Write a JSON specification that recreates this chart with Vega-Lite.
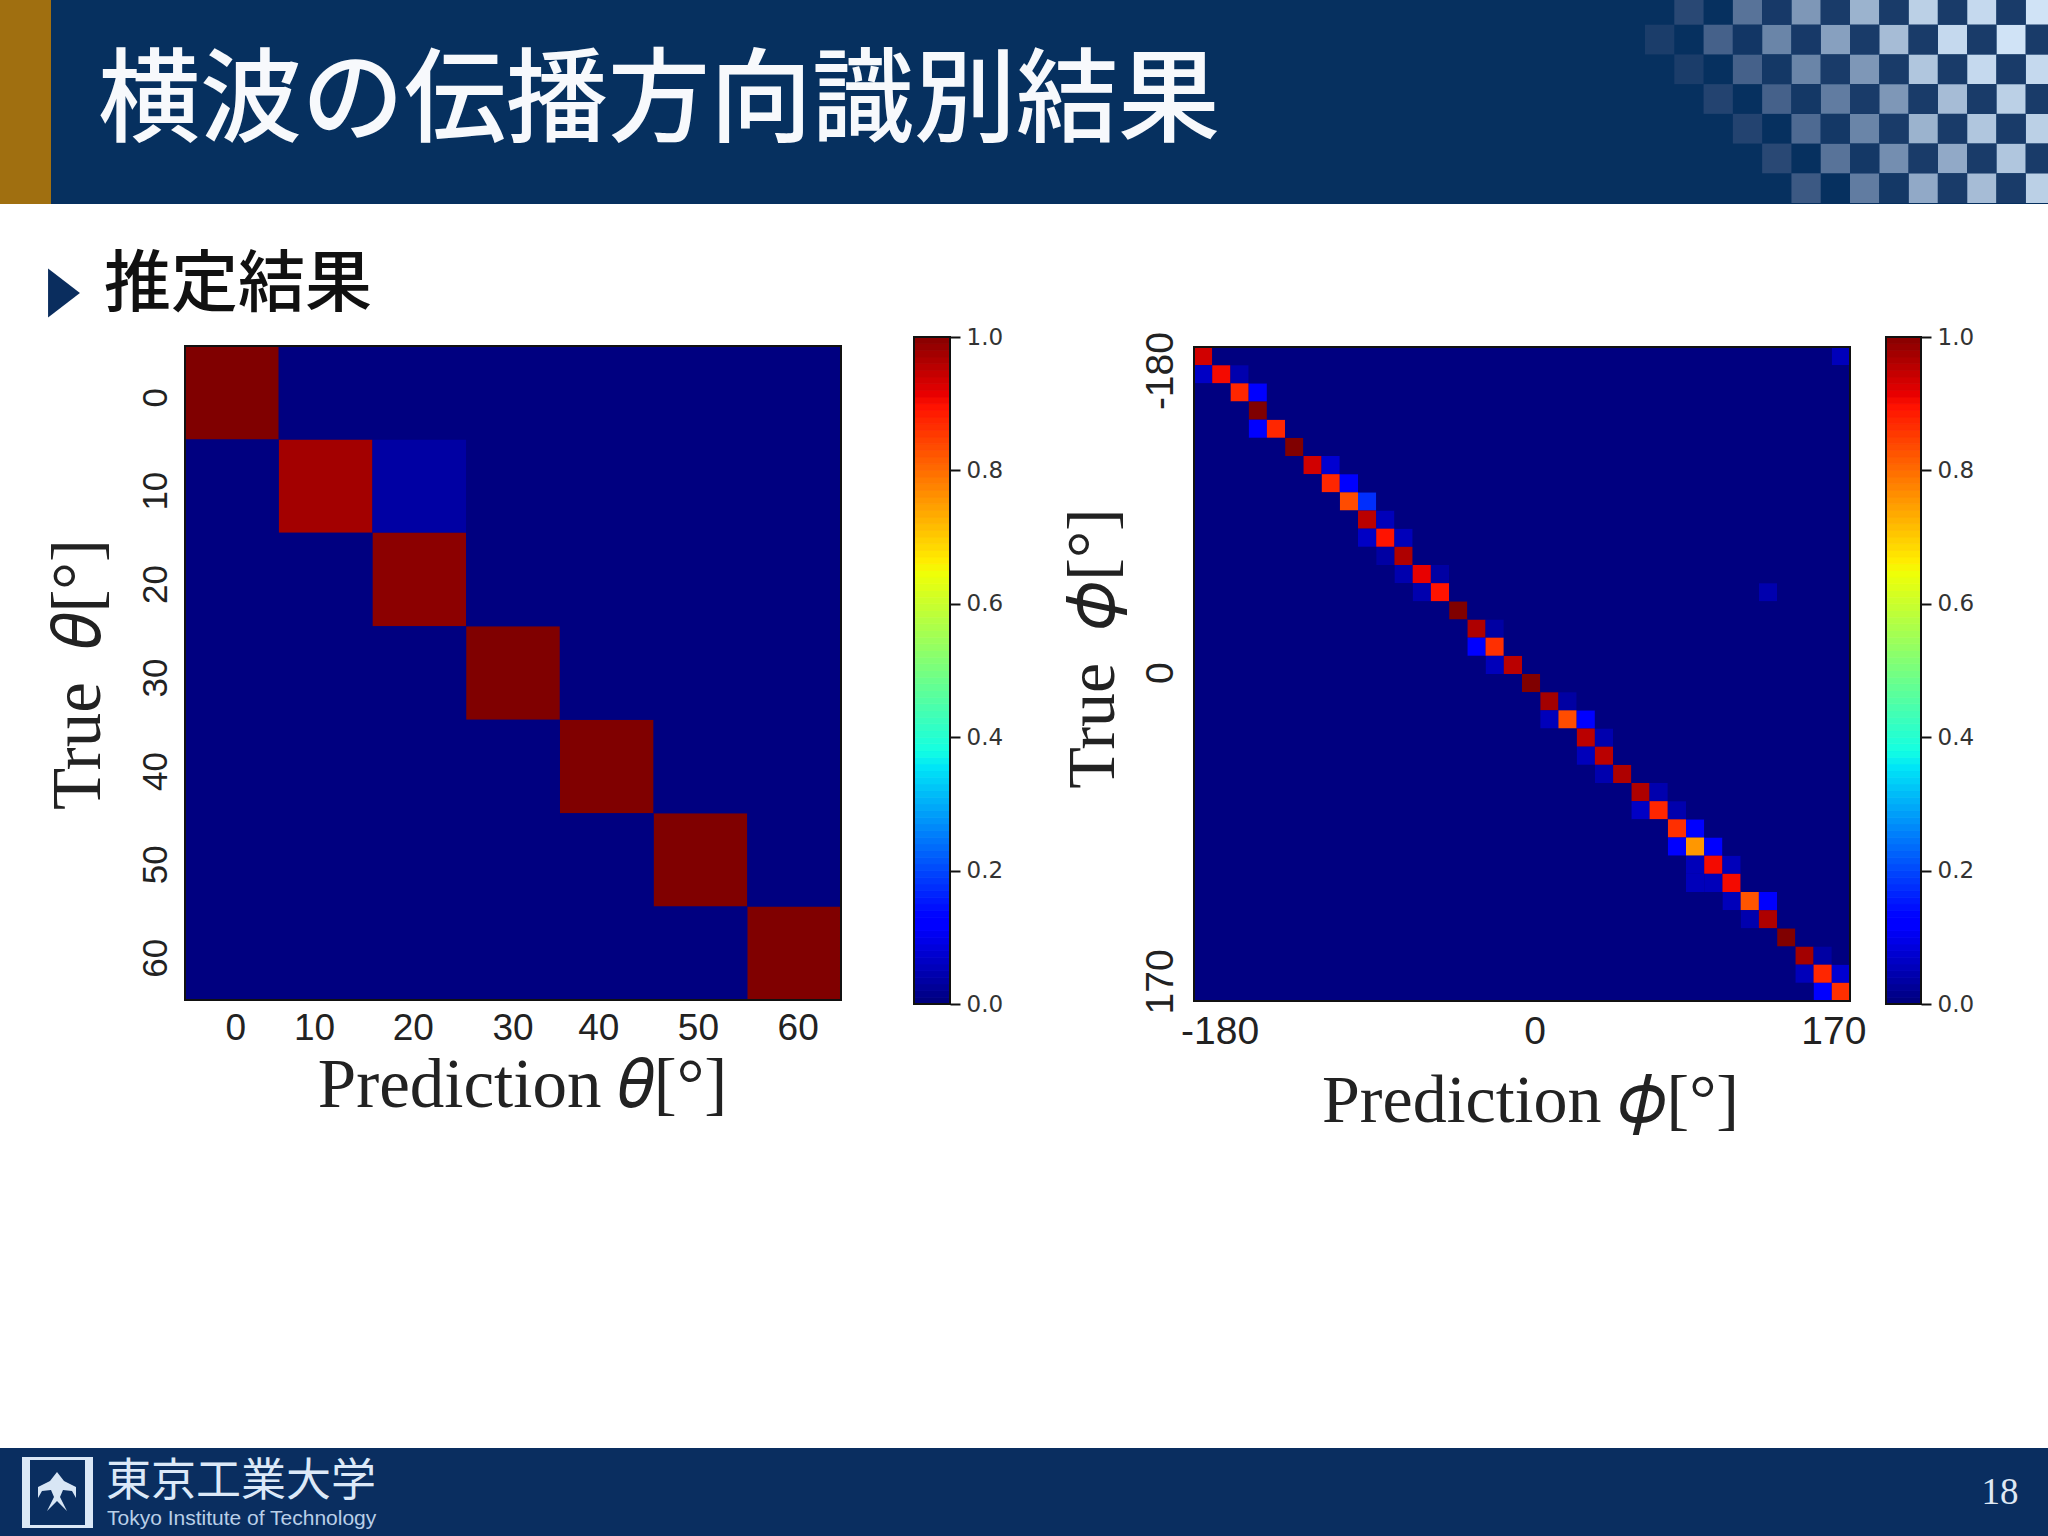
{"$schema":"https://vega.github.io/schema/vega-lite/v6.json","width":2048,"height":1536,"padding":0,"autosize":"none","background":"white","config":{"view":{"stroke":null},"axis":{"grid":false,"domain":false,"ticks":false}},
"data":{"values":[{}]},
"datasets":{
"checker":[{"k":1,"r":0,"b":0.15},{"k":3,"r":0,"b":0.4},{"k":5,"r":0,"b":0.6},{"k":7,"r":0,"b":0.75},{"k":9,"r":0,"b":0.9},{"k":11,"r":0,"b":0.95},{"k":13,"r":0,"b":1},{"k":0,"r":1,"b":0.08},{"k":2,"r":1,"b":0.3},{"k":4,"r":1,"b":0.5},{"k":6,"r":1,"b":0.65},{"k":8,"r":1,"b":0.8},{"k":10,"r":1,"b":0.95},{"k":12,"r":1,"b":1},{"k":1,"r":2,"b":0.08},{"k":3,"r":2,"b":0.3},{"k":5,"r":2,"b":0.5},{"k":7,"r":2,"b":0.6},{"k":9,"r":2,"b":0.85},{"k":11,"r":2,"b":0.95},{"k":13,"r":2,"b":0.95},{"k":2,"r":3,"b":0.12},{"k":4,"r":3,"b":0.3},{"k":6,"r":3,"b":0.45},{"k":8,"r":3,"b":0.6},{"k":10,"r":3,"b":0.8},{"k":12,"r":3,"b":0.9},{"k":3,"r":4,"b":0.12},{"k":5,"r":4,"b":0.35},{"k":7,"r":4,"b":0.5},{"k":9,"r":4,"b":0.75},{"k":11,"r":4,"b":0.85},{"k":13,"r":4,"b":0.9},{"k":4,"r":5,"b":0.15},{"k":6,"r":5,"b":0.4},{"k":8,"r":5,"b":0.55},{"k":10,"r":5,"b":0.7},{"k":12,"r":5,"b":0.85},{"k":5,"r":6,"b":0.25},{"k":7,"r":6,"b":0.45},{"k":9,"r":6,"b":0.7},{"k":11,"r":6,"b":0.8},{"k":13,"r":6,"b":0.9},{"k":4,"r":0,"b":0.06},{"k":6,"r":0,"b":0.07},{"k":8,"r":0,"b":0.07},{"k":10,"r":0,"b":0.07},{"k":12,"r":0,"b":0.07},{"k":3,"r":1,"b":0.04},{"k":5,"r":1,"b":0.06},{"k":7,"r":1,"b":0.07},{"k":9,"r":1,"b":0.07},{"k":11,"r":1,"b":0.07},{"k":13,"r":1,"b":0.07},{"k":4,"r":2,"b":0.05},{"k":6,"r":2,"b":0.07},{"k":8,"r":2,"b":0.07},{"k":10,"r":2,"b":0.07},{"k":12,"r":2,"b":0.07},{"k":5,"r":3,"b":0.05},{"k":7,"r":3,"b":0.07},{"k":9,"r":3,"b":0.07},{"k":11,"r":3,"b":0.07},{"k":13,"r":3,"b":0.07},{"k":6,"r":4,"b":0.05},{"k":8,"r":4,"b":0.07},{"k":10,"r":4,"b":0.07},{"k":12,"r":4,"b":0.07},{"k":7,"r":5,"b":0.05},{"k":9,"r":5,"b":0.07},{"k":11,"r":5,"b":0.07},{"k":13,"r":5,"b":0.07},{"k":8,"r":6,"b":0.05},{"k":10,"r":6,"b":0.07},{"k":12,"r":6,"b":0.07}],
"theta":[{"t":0,"p":0,"v":1},{"t":10,"p":10,"v":0.97},{"t":10,"p":20,"v":0.03},{"t":20,"p":20,"v":0.99},{"t":30,"p":30,"v":1},{"t":40,"p":40,"v":1},{"t":50,"p":50,"v":1},{"t":60,"p":60,"v":1}],
"phi":[{"t":-180,"p":-180,"v":0.93},{"t":-180,"p":170,"v":0.05},{"t":-170,"p":-180,"v":0.06},{"t":-170,"p":-170,"v":0.9},{"t":-170,"p":-160,"v":0.04},{"t":-160,"p":-160,"v":0.87},{"t":-160,"p":-150,"v":0.12},{"t":-150,"p":-150,"v":1},{"t":-140,"p":-150,"v":0.12},{"t":-140,"p":-140,"v":0.87},{"t":-130,"p":-130,"v":1},{"t":-120,"p":-120,"v":0.93},{"t":-120,"p":-110,"v":0.07},{"t":-110,"p":-110,"v":0.87},{"t":-110,"p":-100,"v":0.12},{"t":-100,"p":-100,"v":0.83},{"t":-100,"p":-90,"v":0.17},{"t":-90,"p":-90,"v":0.95},{"t":-90,"p":-80,"v":0.05},{"t":-80,"p":-90,"v":0.06},{"t":-80,"p":-80,"v":0.89},{"t":-80,"p":-70,"v":0.05},{"t":-70,"p":-80,"v":0.03},{"t":-70,"p":-70,"v":0.96},{"t":-60,"p":-70,"v":0.04},{"t":-60,"p":-60,"v":0.91},{"t":-60,"p":-50,"v":0.03},{"t":-50,"p":-60,"v":0.04},{"t":-50,"p":-50,"v":0.89},{"t":-50,"p":130,"v":0.04},{"t":-40,"p":-40,"v":1},{"t":-30,"p":-30,"v":0.96},{"t":-30,"p":-20,"v":0.03},{"t":-20,"p":-30,"v":0.12},{"t":-20,"p":-20,"v":0.86},{"t":-10,"p":-20,"v":0.05},{"t":-10,"p":-10,"v":0.95},{"t":0,"p":0,"v":1},{"t":10,"p":10,"v":0.97},{"t":10,"p":20,"v":0.03},{"t":20,"p":10,"v":0.05},{"t":20,"p":20,"v":0.83},{"t":20,"p":30,"v":0.12},{"t":30,"p":30,"v":0.95},{"t":30,"p":40,"v":0.04},{"t":40,"p":30,"v":0.05},{"t":40,"p":40,"v":0.95},{"t":50,"p":40,"v":0.04},{"t":50,"p":50,"v":0.96},{"t":60,"p":60,"v":0.96},{"t":60,"p":70,"v":0.04},{"t":70,"p":60,"v":0.06},{"t":70,"p":70,"v":0.87},{"t":70,"p":80,"v":0.04},{"t":80,"p":80,"v":0.86},{"t":80,"p":90,"v":0.12},{"t":90,"p":80,"v":0.12},{"t":90,"p":90,"v":0.75},{"t":90,"p":100,"v":0.12},{"t":100,"p":90,"v":0.05},{"t":100,"p":100,"v":0.9},{"t":100,"p":110,"v":0.05},{"t":110,"p":90,"v":0.05},{"t":110,"p":100,"v":0.05},{"t":110,"p":110,"v":0.9},{"t":120,"p":110,"v":0.05},{"t":120,"p":120,"v":0.82},{"t":120,"p":130,"v":0.12},{"t":130,"p":120,"v":0.04},{"t":130,"p":130,"v":0.96},{"t":140,"p":140,"v":1},{"t":150,"p":150,"v":0.97},{"t":150,"p":160,"v":0.03},{"t":160,"p":150,"v":0.05},{"t":160,"p":160,"v":0.87},{"t":160,"p":170,"v":0.07},{"t":170,"p":160,"v":0.12},{"t":170,"p":170,"v":0.86}],
"bar":[{"a":0,"b":0.01},{"a":0.01,"b":0.02},{"a":0.02,"b":0.03},{"a":0.03,"b":0.04},{"a":0.04,"b":0.05},{"a":0.05,"b":0.06},{"a":0.06,"b":0.07},{"a":0.07,"b":0.08},{"a":0.08,"b":0.09},{"a":0.09,"b":0.1},{"a":0.1,"b":0.11},{"a":0.11,"b":0.12},{"a":0.12,"b":0.13},{"a":0.13,"b":0.14},{"a":0.14,"b":0.15},{"a":0.15,"b":0.16},{"a":0.16,"b":0.17},{"a":0.17,"b":0.18},{"a":0.18,"b":0.19},{"a":0.19,"b":0.2},{"a":0.2,"b":0.21},{"a":0.21,"b":0.22},{"a":0.22,"b":0.23},{"a":0.23,"b":0.24},{"a":0.24,"b":0.25},{"a":0.25,"b":0.26},{"a":0.26,"b":0.27},{"a":0.27,"b":0.28},{"a":0.28,"b":0.29},{"a":0.29,"b":0.3},{"a":0.3,"b":0.31},{"a":0.31,"b":0.32},{"a":0.32,"b":0.33},{"a":0.33,"b":0.34},{"a":0.34,"b":0.35},{"a":0.35,"b":0.36},{"a":0.36,"b":0.37},{"a":0.37,"b":0.38},{"a":0.38,"b":0.39},{"a":0.39,"b":0.4},{"a":0.4,"b":0.41},{"a":0.41,"b":0.42},{"a":0.42,"b":0.43},{"a":0.43,"b":0.44},{"a":0.44,"b":0.45},{"a":0.45,"b":0.46},{"a":0.46,"b":0.47},{"a":0.47,"b":0.48},{"a":0.48,"b":0.49},{"a":0.49,"b":0.5},{"a":0.5,"b":0.51},{"a":0.51,"b":0.52},{"a":0.52,"b":0.53},{"a":0.53,"b":0.54},{"a":0.54,"b":0.55},{"a":0.55,"b":0.56},{"a":0.56,"b":0.57},{"a":0.57,"b":0.58},{"a":0.58,"b":0.59},{"a":0.59,"b":0.6},{"a":0.6,"b":0.61},{"a":0.61,"b":0.62},{"a":0.62,"b":0.63},{"a":0.63,"b":0.64},{"a":0.64,"b":0.65},{"a":0.65,"b":0.66},{"a":0.66,"b":0.67},{"a":0.67,"b":0.68},{"a":0.68,"b":0.69},{"a":0.69,"b":0.7},{"a":0.7,"b":0.71},{"a":0.71,"b":0.72},{"a":0.72,"b":0.73},{"a":0.73,"b":0.74},{"a":0.74,"b":0.75},{"a":0.75,"b":0.76},{"a":0.76,"b":0.77},{"a":0.77,"b":0.78},{"a":0.78,"b":0.79},{"a":0.79,"b":0.8},{"a":0.8,"b":0.81},{"a":0.81,"b":0.82},{"a":0.82,"b":0.83},{"a":0.83,"b":0.84},{"a":0.84,"b":0.85},{"a":0.85,"b":0.86},{"a":0.86,"b":0.87},{"a":0.87,"b":0.88},{"a":0.88,"b":0.89},{"a":0.89,"b":0.9},{"a":0.9,"b":0.91},{"a":0.91,"b":0.92},{"a":0.92,"b":0.93},{"a":0.93,"b":0.94},{"a":0.94,"b":0.95},{"a":0.95,"b":0.96},{"a":0.96,"b":0.97},{"a":0.97,"b":0.98},{"a":0.98,"b":0.99},{"a":0.99,"b":1}]
},
"resolve":{"scale":{"x":"independent","y":"independent","color":"independent","stroke":"independent"},"axis":{"x":"independent","y":"independent"}},
"layer":[
{"mark":{"type":"rect","x":0,"x2":2048,"y":0,"y2":204,"fill":"#06305f"},"encoding":{}},
{"mark":{"type":"rect","x":0,"x2":51,"y":0,"y2":204,"fill":"#a06f10"},"encoding":{}},
{"data":{"name":"checker"},"mark":{"type":"rect"},"encoding":{"x":{"field":"k","type":"ordinal","scale":{"domain":[0,1,2,3,4,5,6,7,8,9,10,11,12,13],"range":[1645,2055],"paddingInner":0,"paddingOuter":0},"axis":null},"y":{"field":"r","type":"ordinal","scale":{"domain":[0,1,2,3,4,5,6],"range":[-5,203],"paddingInner":0,"paddingOuter":0},"axis":null},"color":{"field":"b","type":"quantitative","scale":{"domain":[0,1],"range":["#06305f","#d0e3f6"]},"legend":null}}},
{"mark":{"type":"text","x":98,"y":103,"align":"left","baseline":"middle","text":"横波の伝播方向識別結果","font":"Noto Sans CJK JP","fontWeight":500,"fontSize":102,"color":"#f7f9fc"},"encoding":{}},
{"mark":{"type":"point","shape":"M-0.65,-1L0.65,0L-0.65,1Z","filled":true,"opacity":1,"fill":"#0a2d5e","stroke":null,"size":2401,"x":64,"y":293},"encoding":{}},
{"mark":{"type":"text","x":104,"y":286,"align":"left","baseline":"middle","text":"推定結果","font":"Noto Sans CJK JP","fontWeight":500,"fontSize":67,"color":"#111111"},"encoding":{}},

{"mark":{"type":"rect","fill":"#000080"},"encoding":{"x":{"datum":0,"type":"quantitative","scale":{"domain":[0,1],"range":[185,841]},"axis":null},"x2":{"datum":1},"y":{"datum":0,"type":"quantitative","scale":{"domain":[0,1],"range":[346,1000]},"axis":null},"y2":{"datum":1}}},
{"data":{"name":"theta"},"transform":[{"impute":"v","key":"p","keyvals":[0,10,20,30,40,50,60],"groupby":["t"],"value":0}],"mark":{"type":"rect"},"encoding":{
"x":{"field":"p","type":"ordinal","scale":{"domain":[0,10,20,30,40,50,60],"range":[185,841],"paddingInner":0,"paddingOuter":0},"axis":{"orient":"bottom","offset":-536,"labelAngle":0,"labelFont":"Liberation Sans","labelFontSize":37,"labelColor":"#222222","labelPadding":10,"labelBaseline":"top","labelOffset":{"condition":[{"test":"datum.value===0","value":4},{"test":"datum.value===10","value":-11},{"test":"datum.value===20","value":-6},{"test":"datum.value===40","value":-8},{"test":"datum.value===50","value":-2},{"test":"datum.value===60","value":4}],"value":0},"title":"Prediction 𝜃[°]","titleFont":"Liberation Serif","titleFontWeight":"normal","titleFontSize":69,"titleColor":"#222222","titleX":522,"titleY":106,"titleAlign":"center","titleBaseline":"alphabetic"}},
"y":{"field":"t","type":"ordinal","scale":{"domain":[0,10,20,30,40,50,60],"range":[346,1000],"paddingInner":0,"paddingOuter":0},"axis":{"orient":"left","offset":-185,"labelAngle":-90,"labelAlign":"center","labelBaseline":"bottom","labelFont":"Liberation Sans","labelFontSize":35,"labelColor":"#222222","labelPadding":12,"labelOffset":5,"title":"True\u00a0\u00a0𝜃[°]","titleFont":"Liberation Serif","titleFontWeight":"normal","titleFontSize":69,"titleColor":"#222222","titleAngle":-90,"titleX":-86,"titleY":674,"titleAlign":"center","titleBaseline":"alphabetic"}},
"color":{"field":"v","type":"quantitative","scale":{"type":"linear","interpolate":"rgb","domain":[0,0.11,0.125,0.35,0.375,0.64,0.66,0.89,0.91,1],"range":["#000080","#0000ff","#0000ff","#00e5f7","#14ffe2","#eeff08","#ffec00","#ff1300","#e80000","#800000"]},"legend":null}}},
{"mark":{"type":"rect","fill":null,"stroke":"#111111","strokeWidth":2},"encoding":{"x":{"datum":0,"type":"quantitative","scale":{"domain":[0,1],"range":[185,841]},"axis":null},"x2":{"datum":1},"y":{"datum":0,"type":"quantitative","scale":{"domain":[0,1],"range":[346,1000]},"axis":null},"y2":{"datum":1}}},

{"mark":{"type":"rect","fill":"#000080"},"encoding":{"x":{"datum":0,"type":"quantitative","scale":{"domain":[0,1],"range":[1194,1850]},"axis":null},"x2":{"datum":1},"y":{"datum":0,"type":"quantitative","scale":{"domain":[0,1],"range":[347,1001]},"axis":null},"y2":{"datum":1}}},
{"data":{"name":"phi"},"transform":[{"impute":"v","key":"p","keyvals":[-180,-170,-160,-150,-140,-130,-120,-110,-100,-90,-80,-70,-60,-50,-40,-30,-20,-10,0,10,20,30,40,50,60,70,80,90,100,110,120,130,140,150,160,170],"groupby":["t"],"value":0}],"mark":{"type":"rect"},"encoding":{
"x":{"field":"p","type":"ordinal","scale":{"domain":[-180,-170,-160,-150,-140,-130,-120,-110,-100,-90,-80,-70,-60,-50,-40,-30,-20,-10,0,10,20,30,40,50,60,70,80,90,100,110,120,130,140,150,160,170],"range":[1194,1850],"paddingInner":0,"paddingOuter":0},"axis":{"orient":"bottom","offset":-535,"values":[-180,0,170],"labelAngle":0,"labelFont":"Liberation Sans","labelFontSize":39,"labelColor":"#222222","labelPadding":11,"labelBaseline":"top","labelOffset":{"condition":[{"test":"datum.value===-180","value":17},{"test":"datum.value===0","value":4}],"value":-7},"title":"Prediction 𝜙[°]","titleFont":"Liberation Serif","titleFontWeight":"normal","titleFontSize":68,"titleColor":"#222222","titleX":1530,"titleY":120,"titleAlign":"center","titleBaseline":"alphabetic"}},
"y":{"field":"t","type":"ordinal","scale":{"domain":[-180,-170,-160,-150,-140,-130,-120,-110,-100,-90,-80,-70,-60,-50,-40,-30,-20,-10,0,10,20,30,40,50,60,70,80,90,100,110,120,130,140,150,160,170],"range":[347,1001],"paddingInner":0,"paddingOuter":0},"axis":{"orient":"left","offset":-1194,"values":[-180,0,170],"labelAngle":-90,"labelAlign":"center","labelBaseline":"bottom","labelFont":"Liberation Sans","labelFontSize":39,"labelColor":"#222222","labelPadding":14,"labelOffset":{"condition":[{"test":"datum.value===-180","value":15}],"value":-10},"title":"True\u00a0\u00a0𝜙[°]","titleFont":"Liberation Serif","titleFontWeight":"normal","titleFontSize":68,"titleColor":"#222222","titleAngle":-90,"titleX":-81,"titleY":648,"titleAlign":"center","titleBaseline":"alphabetic"}},
"color":{"field":"v","type":"quantitative","scale":{"type":"linear","interpolate":"rgb","domain":[0,0.11,0.125,0.35,0.375,0.64,0.66,0.89,0.91,1],"range":["#000080","#0000ff","#0000ff","#00e5f7","#14ffe2","#eeff08","#ffec00","#ff1300","#e80000","#800000"]},"legend":null}}},
{"mark":{"type":"rect","fill":null,"stroke":"#111111","strokeWidth":2},"encoding":{"x":{"datum":0,"type":"quantitative","scale":{"domain":[0,1],"range":[1194,1850]},"axis":null},"x2":{"datum":1},"y":{"datum":0,"type":"quantitative","scale":{"domain":[0,1],"range":[347,1001]},"axis":null},"y2":{"datum":1}}},

{"data":{"name":"bar"},"mark":{"type":"rect","strokeWidth":0.8},"encoding":{"x":{"datum":0,"type":"quantitative","scale":{"domain":[0,1],"range":[914,950]},"axis":null},"x2":{"datum":1},"y":{"field":"a","type":"quantitative","scale":{"domain":[0,1],"range":[1004,337],"nice":false},"axis":{"orient":"right","offset":-1098,"values":[0,0.2,0.4,0.6,0.8,1],"format":".1f","ticks":true,"tickColor":"#111111","tickSize":10,"tickWidth":2,"labelFont":"DejaVu Sans","labelFontSize":23,"labelColor":"#333333","labelPadding":6,"title":null}},"y2":{"field":"b"},"color":{"field":"a","type":"quantitative","scale":{"type":"linear","interpolate":"rgb","domain":[0,0.11,0.125,0.35,0.375,0.64,0.66,0.89,0.91,1],"range":["#000080","#0000ff","#0000ff","#00e5f7","#14ffe2","#eeff08","#ffec00","#ff1300","#e80000","#800000"]},"legend":null},"stroke":{"field":"a","type":"quantitative","scale":{"type":"linear","interpolate":"rgb","domain":[0,0.11,0.125,0.35,0.375,0.64,0.66,0.89,0.91,1],"range":["#000080","#0000ff","#0000ff","#00e5f7","#14ffe2","#eeff08","#ffec00","#ff1300","#e80000","#800000"]},"legend":null}}},
{"mark":{"type":"rect","fill":null,"stroke":"#111111","strokeWidth":2},"encoding":{"x":{"datum":0,"type":"quantitative","scale":{"domain":[0,1],"range":[914,950]},"axis":null},"x2":{"datum":1},"y":{"datum":0,"type":"quantitative","scale":{"domain":[0,1],"range":[337,1004]},"axis":null},"y2":{"datum":1}}},
{"data":{"name":"bar"},"mark":{"type":"rect","strokeWidth":0.8},"encoding":{"x":{"datum":0,"type":"quantitative","scale":{"domain":[0,1],"range":[1886,1921]},"axis":null},"x2":{"datum":1},"y":{"field":"a","type":"quantitative","scale":{"domain":[0,1],"range":[1004,337],"nice":false},"axis":{"orient":"right","offset":-127,"values":[0,0.2,0.4,0.6,0.8,1],"format":".1f","ticks":true,"tickColor":"#111111","tickSize":10,"tickWidth":2,"labelFont":"DejaVu Sans","labelFontSize":23,"labelColor":"#333333","labelPadding":6,"title":null}},"y2":{"field":"b"},"color":{"field":"a","type":"quantitative","scale":{"type":"linear","interpolate":"rgb","domain":[0,0.11,0.125,0.35,0.375,0.64,0.66,0.89,0.91,1],"range":["#000080","#0000ff","#0000ff","#00e5f7","#14ffe2","#eeff08","#ffec00","#ff1300","#e80000","#800000"]},"legend":null},"stroke":{"field":"a","type":"quantitative","scale":{"type":"linear","interpolate":"rgb","domain":[0,0.11,0.125,0.35,0.375,0.64,0.66,0.89,0.91,1],"range":["#000080","#0000ff","#0000ff","#00e5f7","#14ffe2","#eeff08","#ffec00","#ff1300","#e80000","#800000"]},"legend":null}}},
{"mark":{"type":"rect","fill":null,"stroke":"#111111","strokeWidth":2},"encoding":{"x":{"datum":0,"type":"quantitative","scale":{"domain":[0,1],"range":[1886,1921]},"axis":null},"x2":{"datum":1},"y":{"datum":0,"type":"quantitative","scale":{"domain":[0,1],"range":[337,1004]},"axis":null},"y2":{"datum":1}}},

{"mark":{"type":"rect","x":0,"x2":2048,"y":1448,"y2":1536,"fill":"#0a2e60"},"encoding":{}},
{"mark":{"type":"rect","x":22,"x2":93,"y":1457,"y2":1528,"fill":"#dbe8f6"},"encoding":{}},
{"mark":{"type":"rect","x":30,"x2":85,"y":1460,"y2":1525,"fill":"#0a2e60"},"encoding":{}},
{"mark":{"type":"point","shape":"M0,-1L0.35,-0.55L0.95,-0.25L0.95,0.3L0.75,-0.05L0.3,-0.1L0.15,0.25L0.5,0.95L0,0.45L-0.5,0.95L-0.15,0.25L-0.3,-0.1L-0.75,-0.05L-0.95,0.3L-0.95,-0.25L-0.35,-0.55Z","filled":true,"opacity":1,"fill":"#d8e6f5","stroke":null,"size":1600,"x":57,"y":1492},"encoding":{}},
{"mark":{"type":"text","x":106,"y":1482,"align":"left","baseline":"middle","text":"東京工業大学","font":"Noto Sans CJK JP","fontWeight":400,"fontSize":45,"color":"#dce9f8"},"encoding":{}},
{"mark":{"type":"text","x":107,"y":1519,"align":"left","baseline":"middle","text":"Tokyo Institute of Technology","font":"Liberation Sans","fontSize":21,"color":"#b9cfe8"},"encoding":{}},
{"mark":{"type":"text","x":2000,"y":1493,"align":"center","baseline":"middle","text":"18","font":"Liberation Serif","fontSize":37,"color":"#dfe8f3"},"encoding":{}}
]}
